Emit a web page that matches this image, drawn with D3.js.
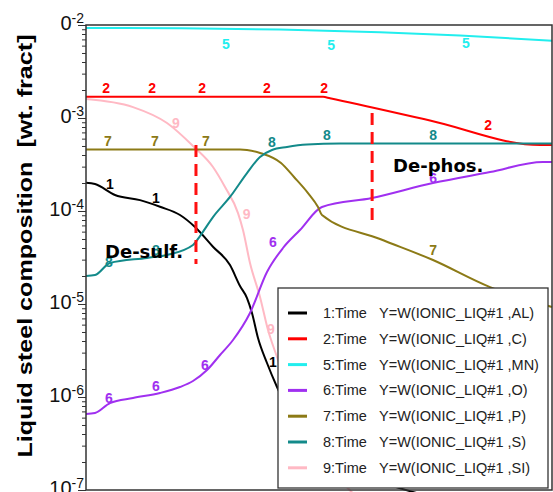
<!DOCTYPE html>
<html><head><meta charset="utf-8">
<script src="https://cdn.jsdelivr.net/npm/d3@7"></script>
<style>html,body{margin:0;padding:0;background:#fff;overflow:hidden;} svg{display:block;}</style>
</head><body>
<svg id="c" width="553" height="492"></svg>
<script>
// ---- Liquid steel composition vs. time (time axis normalised 0..100) ----
const tAL = [0, 1.93, 6.22, 11.59, 15.88, 20.17, 23.39, 27.25, 30.90, 33.05, 34.55, 35.62, 36.91, 38.84, 40.99, 45.92, 52.36, 58.80, 66.31, 71.67];
const wAL = [2.01e-4, 1.95e-4, 1.486e-4, 1.31e-4, 1.11e-4, 9.06e-5, 6.73e-5, 4.13e-5, 2.62e-5, 1.56e-5, 1.16e-5, 8.0e-6, 4.31e-6, 2.32e-6, 1.28e-6, 4.42e-7, 2.10e-7, 1.38e-7, 1.08e-7, 9.06e-8];

const tC = [0, 50.86, 52.36, 73.82, 97.42, 100];
const wC = [1.69e-3, 1.69e-3, 1.63e-3, 9.4e-4, 5.13e-4, 5.13e-4];

const tMN = [0, 20.17, 41.6, 63.09, 80.26, 100];
const wMN = [9.29e-3, 9.21e-3, 8.95e-3, 8.34e-3, 7.71e-3, 6.78e-3];

const tO = [0, 1.93, 5.15, 10.09, 15.88, 20.17, 22.96, 25.97, 28.76, 31.55, 35.19, 38.84, 42.27, 45.92, 50.64, 61.37, 74.46, 86.70, 98.07, 100];
const wO = [6.56e-7, 6.73e-7, 8.61e-7, 9.75e-7, 1.104e-6, 1.28e-6, 1.486e-6, 1.95e-6, 2.83e-6, 4.10e-6, 8.0e-6, 2.21e-5, 4.0e-5, 6.25e-5, 1.105e-4, 1.38e-4, 2.0e-4, 2.62e-4, 3.37e-4, 3.37e-4];

const tP = [0, 33.05, 34.55, 37.34, 41.85, 44.64, 47.64, 49.79, 50.64, 63.09, 74.46, 86.70, 100];
const wP = [4.58e-4, 4.58e-4, 4.53e-4, 4.21e-4, 3.28e-4, 2.32e-4, 1.56e-4, 1.105e-4, 9.06e-5, 5.0e-5, 2.97e-5, 1.52e-5, 9.29e-6];

const tS = [0, 1.93, 5.15, 13.09, 17.38, 22.96, 24.46, 27.25, 30.90, 34.55, 37.34, 39.91, 43.13, 47.42, 54.51, 100];
const wS = [2.0e-5, 2.05e-5, 2.76e-5, 3.13e-5, 3.37e-5, 4.31e-5, 5.38e-5, 8.61e-5, 1.415e-4, 2.56e-4, 3.81e-4, 4.53e-4, 4.88e-4, 5.19e-4, 5.32e-4, 5.32e-4];

const tSI = [0, 10.09, 17.38, 22.96, 27.25, 29.83, 32.62, 33.69, 35.19, 37.34, 39.06, 40.99, 43.78, 48.07, 54.51, 58.80];
const wSI = [1.60e-3, 1.31e-3, 8.83e-4, 5.0e-4, 2.97e-4, 1.81e-4, 9.5e-5, 6.25e-5, 2.76e-5, 1.19e-5, 5.25e-6, 2.69e-6, 1.05e-6, 3.45e-7, 1.28e-7, 7.8e-8];

// curve-number tags placed along each curve: [time, wt. fraction]
const tagAL = [[5.15, 1.95e-4], [15.0, 1.38e-4], [40.1, 2.38e-6]];
const tagC  = [[4.3, 2.10e-3], [14.2, 2.10e-3], [24.9, 2.10e-3], [38.8, 2.10e-3], [51.1, 2.10e-3], [86.3, 8.41e-4]];
const tagMN = [[30.0, 6.25e-3], [52.6, 6.10e-3], [81.5, 6.40e-3]];
const tagO  = [[4.9, 9.75e-7], [15.0, 1.31e-6], [25.5, 2.21e-6], [40.1, 4.65e-5], [74.5, 2.26e-4]];
const tagP  = [[4.7, 5.66e-4], [14.8, 5.66e-4], [25.75, 5.66e-4], [74.5, 3.81e-5]];
const tagS  = [[4.9, 2.83e-5], [15.0, 3.81e-5], [39.9, 5.52e-4], [51.7, 6.56e-4], [74.5, 6.56e-4]];
const tagSI = [[19.3, 8.83e-4], [34.5, 9.29e-5], [39.7, 5.38e-6]];

const curveIds = ["1", "2", "5", "6", "7", "8", "9"];
const legendNames = ["1:Time", "2:Time", "5:Time", "6:Time", "7:Time", "8:Time", "9:Time"];
const legendExprs = ["Y=W(IONIC_LIQ#1 ,AL)", "Y=W(IONIC_LIQ#1 ,C)", "Y=W(IONIC_LIQ#1 ,MN)", "Y=W(IONIC_LIQ#1 ,O)", "Y=W(IONIC_LIQ#1 ,P)", "Y=W(IONIC_LIQ#1 ,S)", "Y=W(IONIC_LIQ#1 ,SI)"];

// y-axis decade labels (mantissa text + exponent)
const tickExps = [-2, -3, -4, -5, -6, -7];
const tickBase = ["0", "0", "10", "10", "10", "10"];

// refining-stage markers and captions
const stageT = [23.6, 61.4];
const stageTop = [5.13e-4, 1.13e-3];
const stageBottom = [2.69e-5, 6.73e-5];
const stageText = ["De-sulf.", "De-phos."];
const stageTextT = [4.08, 65.9];
const stageTextW = [3.13e-5, 2.62e-4];

const yTitle = "Liquid steel composition  [wt. fract]";

// ---- drawing ----
const svg = d3.select("#c");
const L = 86, R = 552, T = 25, B = 490;
const x = d3.scaleLinear().domain([0, 100]).range([L, R]);
const y = d3.scaleLog().domain([1e-7, 1e-2]).range([B, T]);

const colors = ["#000000", "#ff0000", "#22eeee", "#a030f0", "#8c7a16", "#138a8a", "#ffb9c4"];
const series = [
  [tAL, wAL, tagAL], [tC, wC, tagC], [tMN, wMN, tagMN], [tO, wO, tagO],
  [tP, wP, tagP], [tS, wS, tagS], [tSI, wSI, tagSI]
].map((s, i) => ({
  id: curveIds[i], color: colors[i],
  pts: s[0].map((t, k) => [t, s[1][k]]),
  tags: s[2]
}));

svg.append("defs").append("clipPath").attr("id", "plotclip")
  .append("rect").attr("x", L).attr("y", T).attr("width", R - L + 2).attr("height", 480);

const plot = svg.append("g").attr("clip-path", "url(#plotclip)");
const line = d3.line().x(d => x(d[0])).y(d => y(d[1])).curve(d3.curveMonotoneX);

// draw pink first so the others sit above it
const order = [6, 0, 1, 2, 3, 4, 5];
order.forEach(i => {
  const s = series[i];
  plot.append("path").attr("d", line(s.pts)).attr("fill", "none")
    .attr("stroke", s.color).attr("stroke-width", 2).attr("stroke-linejoin", "round");
});
order.forEach(i => {
  const s = series[i];
  plot.selectAll(null).data(s.tags).enter().append("text")
    .attr("x", d => x(d[0])).attr("y", d => y(d[1]))
    .attr("text-anchor", "middle").attr("dominant-baseline", "central")
    .attr("font-family", "Liberation Sans, Arial, sans-serif")
    .attr("font-weight", "bold").attr("font-size", 14)
    .attr("fill", s.color).text(s.id);
});

// stage markers
stageT.forEach((t, i) => {
  plot.append("line").attr("x1", x(t)).attr("x2", x(t))
    .attr("y1", y(stageTop[i])).attr("y2", y(stageBottom[i]))
    .attr("stroke", "#ff1010").attr("stroke-width", 3).attr("stroke-dasharray", "12,7");
  svg.append("text").attr("x", x(stageTextT[i])).attr("y", y(stageTextW[i]))
    .attr("font-family", "DejaVu Sans, Verdana, sans-serif").attr("font-weight", "bold")
    .attr("font-size", 18).attr("fill", "#000").text(stageText[i]);
});

// frame
svg.append("rect").attr("x", L).attr("y", T).attr("width", R - L).attr("height", B - T)
  .attr("fill", "none").attr("stroke", "#333").attr("stroke-width", 1.5);

// y axis ticks (major decades and minor)
const majors = tickExps.map(e => Math.pow(10, e));
const minors = [];
for (let e = -7; e < -2; e++) for (let k = 2; k <= 9; k++) minors.push(k * Math.pow(10, e));
const axMaj = svg.append("g").attr("transform", `translate(${L},0)`)
  .call(d3.axisLeft(y).tickValues(majors).tickSize(8).tickFormat(""));
const axMin = svg.append("g").attr("transform", `translate(${L},0)`)
  .call(d3.axisLeft(y).tickValues(minors).tickSize(4).tickFormat(""));
[axMaj, axMin].forEach(g => {
  g.select(".domain").remove();
  g.selectAll(".tick line").attr("stroke", "#333").attr("stroke-width", 1);
});

tickExps.forEach((e, i) => {
  const tx = svg.append("text").attr("x", 84).attr("y", y(Math.pow(10, e)) + 5)
    .attr("text-anchor", "end").attr("font-family", "Liberation Sans, Arial, sans-serif")
    .attr("fill", "#111");
  tx.append("tspan").attr("font-size", 20).text(tickBase[i]);
  tx.append("tspan").attr("font-size", 14).attr("dy", -7).text(String(e));
});

// y title
svg.append("text").attr("transform", "translate(32,246) rotate(-90)")
  .attr("text-anchor", "middle").attr("font-family", "Liberation Sans, Arial, sans-serif")
  .attr("font-weight", "bold").attr("font-size", 21).attr("fill", "#000")
  .attr("textLength", 423).attr("lengthAdjust", "spacingAndGlyphs")
  .style("white-space", "pre").text(yTitle);

// legend
const lg = svg.append("g").attr("transform", "translate(278,288)");
lg.append("rect").attr("width", 270).attr("height", 200).attr("fill", "#fff")
  .attr("stroke", "#333").attr("stroke-width", 1.3);
series.forEach((s, i) => {
  const ry = 25 + i * 25.8;
  lg.append("line").attr("x1", 10).attr("x2", 29).attr("y1", ry).attr("y2", ry)
    .attr("stroke", s.color).attr("stroke-width", 3);
  lg.append("text").attr("x", 45).attr("y", ry + 5).attr("font-family", "Liberation Sans, Arial, sans-serif")
    .attr("font-size", 14.5).attr("fill", "#222").text(legendNames[i]);
  lg.append("text").attr("x", 101).attr("y", ry + 5).attr("font-family", "Liberation Sans, Arial, sans-serif")
    .attr("font-size", 14.5).attr("fill", "#222").text(legendExprs[i]);
});
</script>
</body></html>
